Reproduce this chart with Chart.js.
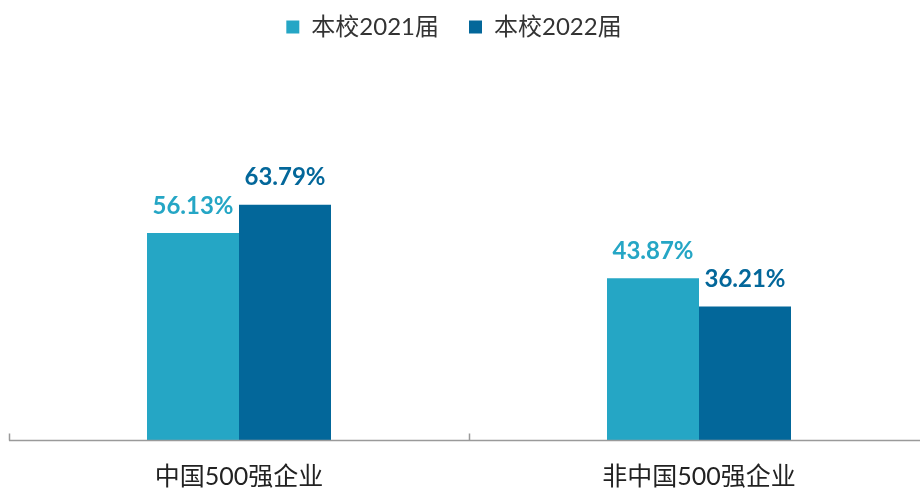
<!DOCTYPE html>
<html>
<head>
<meta charset="utf-8">
<script src="https://cdn.jsdelivr.net/npm/chart.js@4/dist/chart.umd.min.js"></script>
<style>
  html, body { margin: 0; padding: 0; background: #fff; overflow: hidden; }
  #wrap { width: 920px; height: 489px; overflow: hidden; }
</style>
</head>
<body>
<div id="wrap"><canvas id="chart" width="930" height="489"></canvas></div>
<script>
// Data
const categories = ['中国500强企业', '非中国500强企业'];
const seriesNames = ['本校2021届', '本校2022届'];
const values2021 = [56.13, 43.87];
const values2022 = [63.79, 36.21];

const colors = ['#25A6C5', '#03679A'];
const fontFamily = "Lato, 'Noto Sans CJK SC', sans-serif";

// Axis line with upward tick marks between categories
const axisPlugin = {
  id: 'axisLine',
  beforeDraw(chart) {
    // legend sits a little left of the plot centre in the original
    chart.legend.left -= 15;
    chart.legend.right -= 15;
  },
  afterDraw(chart) {
    const ctx = chart.ctx;
    const x = chart.scales.x;
    const y = chart.chartArea.bottom + 0.5;
    ctx.save();
    ctx.strokeStyle = '#9a9a9a';
    ctx.lineWidth = 1.5;
    ctx.beginPath();
    ctx.moveTo(x.left, y);
    ctx.lineTo(x.right, y);
    const n = categories.length;
    for (let i = 0; i <= n; i++) {
      const px = Math.round(x.left + i * (x.right - x.left) / n) + 0.5;
      ctx.moveTo(px, y);
      ctx.lineTo(px, y - 7);
    }
    ctx.stroke();
    ctx.restore();
  }
};

// Value labels above bars
const labelPlugin = {
  id: 'valueLabels',
  afterDatasetsDraw(chart) {
    const ctx = chart.ctx;
    ctx.save();
    ctx.font = "bold 24px " + fontFamily;
    ctx.textAlign = 'center';
    ctx.textBaseline = 'middle';
    chart.data.datasets.forEach((ds, di) => {
      const meta = chart.getDatasetMeta(di);
      meta.data.forEach((bar, i) => {
        ctx.fillStyle = colors[di];
        ctx.fillText(ds.data[i].toFixed(2) + '%', bar.x, bar.y - 27);
      });
    });
    ctx.restore();
  }
};

new Chart(document.getElementById('chart'), {
  type: 'bar',
  data: {
    labels: categories,
    datasets: [
      { label: seriesNames[0], data: values2021, backgroundColor: colors[0], borderWidth: 0 },
      { label: seriesNames[1], data: values2022, backgroundColor: colors[1], borderWidth: 0 }
    ]
  },
  options: {
    responsive: false,
    animation: false,
    devicePixelRatio: 1,
    categoryPercentage: 0.4,
    barPercentage: 1.0,
    layout: { padding: { left: 9, right: 1, top: -15, bottom: -25 } },
    plugins: {
      legend: {
        position: 'top',
        labels: {
          boxWidth: 13,
          boxHeight: 13,
          padding: 30,
          color: '#333',
          font: { size: 24, family: fontFamily }
        }
      },
      tooltip: { enabled: false }
    },
    scales: {
      x: {
        grid: { display: false, drawTicks: false },
        border: { display: false },
        ticks: {
          padding: 22,
          color: '#222',
          font: { size: 25, family: fontFamily }
        }
      },
      y: {
        display: false,
        min: 0,
        max: 106
      }
    }
  },
  plugins: [axisPlugin, labelPlugin]
});
</script>
</body>
</html>
